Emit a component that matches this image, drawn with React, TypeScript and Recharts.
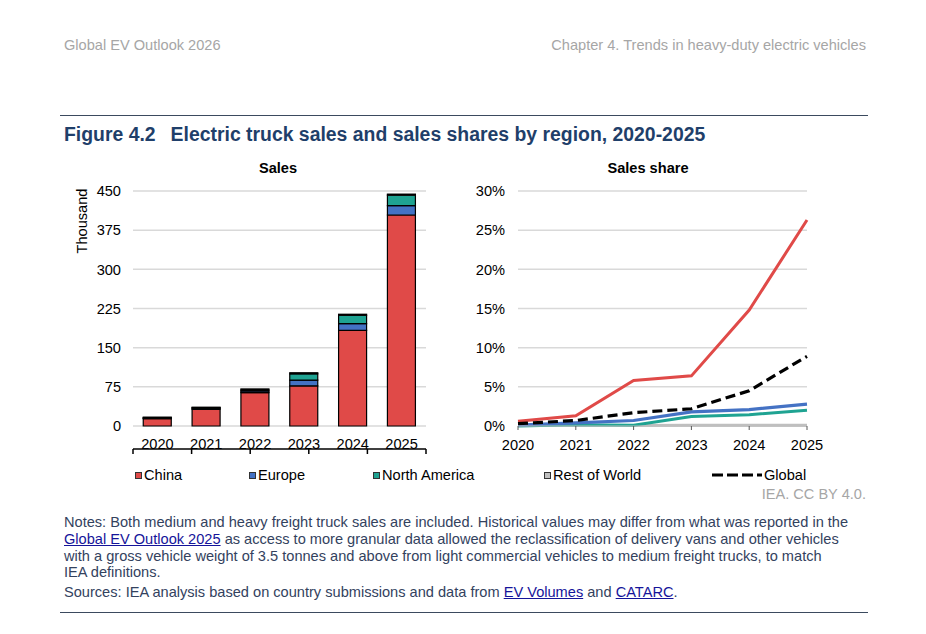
import React from "react";
import {
  BarChart,
  Bar,
  LineChart,
  Line,
  XAxis,
  YAxis,
  CartesianGrid,
} from "recharts";

const years = [2020, 2021, 2022, 2023, 2024, 2025];

// Sales, thousand vehicles
const salesChina = [14, 32, 64, 77, 183, 404];
const salesEurope = [1, 2, 3, 11, 13, 18];
const salesNorthAmerica = [1, 1, 2, 12, 16, 20];
const salesRestOfWorld = [1, 1, 2, 2, 2, 2];

// Sales share, %
const shareChina = [0.6, 1.3, 5.8, 6.4, 14.8, 26.3];
const shareEurope = [0.1, 0.4, 0.7, 1.8, 2.1, 2.8];
const shareNorthAmerica = [0.0, 0.15, 0.1, 1.2, 1.45, 2.0];
const shareRestOfWorld = [0.05, 0.05, 0.05, 0.1, 0.1, 0.1];
const shareGlobal = [0.3, 0.7, 1.7, 2.2, 4.5, 8.9];

const salesTicks = [0, 75, 150, 225, 300, 375, 450];
const shareTicks = [0, 5, 10, 15, 20, 25, 30];

const COLORS = {
  china: "#E04A48",
  europe: "#4472C4",
  northAmerica: "#1FA392",
  rest: "#BFBFBF",
  global: "#000000",
};

const salesData = years.map((y, i) => ({
  year: String(y),
  china: salesChina[i],
  europe: salesEurope[i],
  northAmerica: salesNorthAmerica[i],
  rest: salesRestOfWorld[i],
}));

const shareData = years.map((y, i) => ({
  year: y,
  china: shareChina[i],
  europe: shareEurope[i],
  northAmerica: shareNorthAmerica[i],
  rest: shareRestOfWorld[i],
  global: shareGlobal[i],
}));

const boundaryTicks = years.map((_, i) => i).concat(years.length);

const FONT = "'Liberation Sans', Arial, Helvetica, sans-serif";
const FS = 14.6;
const TITLE_BLUE = "#1F3F6A";
const NOTE_COLOR = "#33425E";
const LINK_COLOR = "#15149A";

const tickStyle = { fontSize: FS, fill: "#000", fontFamily: FONT };

const EmptyTick = () => <g />;

const legendItems = [
  { name: "China", color: COLORS.china, left: 135 },
  { name: "Europe", color: COLORS.europe, left: 249 },
  { name: "North America", color: COLORS.northAmerica, left: 373 },
  { name: "Rest of World", color: COLORS.rest, left: 544 },
];

const linkStyle: React.CSSProperties = {
  color: LINK_COLOR,
  textDecoration: "underline",
};

export default function App() {
  return (
    <div
      style={{
        position: "absolute",
        left: 0,
        top: 0,
        width: 926,
        height: 634,
        background: "#fff",
        fontFamily: FONT,
        overflow: "hidden",
      }}
    >
      {/* Header */}
      <div
        style={{
          position: "absolute",
          left: 64,
          top: 36,
          fontSize: FS,
          lineHeight: "18px",
          color: "#A6A6A6",
          whiteSpace: "nowrap",
        }}
      >
        Global EV Outlook 2026
      </div>
      <div
        style={{
          position: "absolute",
          right: 926 - 866,
          top: 36,
          fontSize: FS,
          lineHeight: "18px",
          color: "#A6A6A6",
          whiteSpace: "nowrap",
        }}
      >
        Chapter 4. Trends in heavy-duty electric vehicles
      </div>

      {/* Top rule */}
      <div
        style={{
          position: "absolute",
          left: 60,
          top: 115,
          width: 808,
          height: 1,
          background: "#3B4A5E",
        }}
      />

      {/* Title */}
      <div
        style={{
          position: "absolute",
          left: 64,
          top: 123,
          fontSize: 19.4,
          lineHeight: "23px",
          fontWeight: "bold",
          color: TITLE_BLUE,
          whiteSpace: "nowrap",
        }}
      >
        <span style={{ marginRight: 15 }}>Figure 4.2</span>
        Electric truck sales and sales shares by region, 2020-2025
      </div>

      {/* Subtitles */}
      <div
        style={{
          position: "absolute",
          left: 178,
          width: 200,
          top: 159,
          textAlign: "center",
          fontSize: FS,
          lineHeight: "18px",
          fontWeight: "bold",
          color: "#000",
        }}
      >
        Sales
      </div>
      <div
        style={{
          position: "absolute",
          left: 548,
          width: 200,
          top: 159,
          textAlign: "center",
          fontSize: FS,
          lineHeight: "18px",
          fontWeight: "bold",
          color: "#000",
        }}
      >
        Sales share
      </div>

      {/* Y-axis title */}
      <div
        style={{
          position: "absolute",
          left: 82,
          top: 221,
          transform: "translate(-50%, -50%) rotate(-90deg)",
          fontSize: FS,
          lineHeight: "16px",
          color: "#000",
          whiteSpace: "nowrap",
        }}
      >
        Thousand
      </div>

      {/* Left chart: Sales */}
      <div style={{ position: "absolute", left: 60, top: 150 }}>
        <BarChart
          width={380}
          height={320}
          data={salesData}
          margin={{ top: 41, right: 14, bottom: 20, left: 33 }}
          barCategoryGap="21%"
        >
          <CartesianGrid
            vertical={false}
            stroke="#D9D9D9"
            strokeWidth={1.5}
            xAxisId="cat"
          />
          <XAxis
            xAxisId="edges"
            type="number"
            domain={[0, years.length]}
            ticks={boundaryTicks}
            allowDataOverflow
            height={1}
            axisLine={{ stroke: "#000", strokeWidth: 1.5 }}
            tickLine={{ stroke: "#000", strokeWidth: 1.5 }}
            tickSize={5}
            tick={<EmptyTick />}
            interval={0}
          />
          <XAxis
            xAxisId="cat"
            dataKey="year"
            height={23}
            axisLine={false}
            tickLine={false}
            tickSize={0}
            tickMargin={13}
            tick={tickStyle}
            interval={0}
          />
          <YAxis
            width={40}
            domain={[0, 450]}
            ticks={salesTicks}
            axisLine={false}
            tickLine={false}
            tickMargin={6}
            tick={tickStyle}
            interval={0}
          />
          <Bar
            xAxisId="cat"
            dataKey="china"
            name="China"
            stackId="s"
            fill={COLORS.china}
            stroke="#000"
            strokeWidth={1.2}
            isAnimationActive={false}
          />
          <Bar
            xAxisId="cat"
            dataKey="europe"
            name="Europe"
            stackId="s"
            fill={COLORS.europe}
            stroke="#000"
            strokeWidth={1.2}
            isAnimationActive={false}
          />
          <Bar
            xAxisId="cat"
            dataKey="northAmerica"
            name="North America"
            stackId="s"
            fill={COLORS.northAmerica}
            stroke="#000"
            strokeWidth={1.2}
            isAnimationActive={false}
          />
          <Bar
            xAxisId="cat"
            dataKey="rest"
            name="Rest of World"
            stackId="s"
            fill={COLORS.rest}
            stroke="#000"
            strokeWidth={1.2}
            isAnimationActive={false}
          />
        </BarChart>
      </div>

      {/* Right chart: Sales share */}
      <div style={{ position: "absolute", left: 460, top: 150 }}>
        <LineChart
          width={380}
          height={320}
          data={shareData}
          margin={{ top: 41, right: 33, bottom: 20, left: 13 }}
        >
          <CartesianGrid vertical={false} stroke="#D9D9D9" strokeWidth={1.5} />
          <XAxis
            dataKey="year"
            type="number"
            domain={[years[0], years[years.length - 1]]}
            ticks={years}
            height={24}
            axisLine={{ stroke: "#BFBFBF", strokeWidth: 1 }}
            tickLine={{ stroke: "#595959", strokeWidth: 1 }}
            tickSize={4}
            tickMargin={10}
            tick={tickStyle}
            interval={0}
          />
          <YAxis
            width={45}
            domain={[0, 30]}
            ticks={shareTicks}
            tickFormatter={(v: number) => `${v}%`}
            axisLine={false}
            tickLine={false}
            tickMargin={7}
            tick={tickStyle}
            interval={0}
          />
          <Line
            dataKey="rest"
            name="Rest of World"
            stroke={COLORS.rest}
            strokeWidth={3}
            dot={false}
            isAnimationActive={false}
          />
          <Line
            dataKey="northAmerica"
            name="North America"
            stroke={COLORS.northAmerica}
            strokeWidth={3}
            dot={false}
            isAnimationActive={false}
          />
          <Line
            dataKey="europe"
            name="Europe"
            stroke={COLORS.europe}
            strokeWidth={3.2}
            dot={false}
            isAnimationActive={false}
          />
          <Line
            dataKey="china"
            name="China"
            stroke={COLORS.china}
            strokeWidth={3}
            dot={false}
            isAnimationActive={false}
          />
          <Line
            dataKey="global"
            name="Global"
            stroke={COLORS.global}
            strokeWidth={3.2}
            strokeDasharray="10 5"
            dot={false}
            isAnimationActive={false}
          />
        </LineChart>
      </div>

      {/* Legend */}
      {legendItems.map((it) => (
        <div
          key={it.name}
          style={{
            position: "absolute",
            left: it.left,
            top: 467,
            height: 16,
            display: "flex",
            alignItems: "center",
            fontSize: FS,
            color: "#000",
            whiteSpace: "nowrap",
          }}
        >
          <span
            style={{
              display: "inline-block",
              width: 5,
              height: 5,
              border: "1px solid #333",
              background: it.color,
              marginRight: 2,
            }}
          />
          {it.name}
        </div>
      ))}
      <div
        style={{
          position: "absolute",
          left: 712,
          top: 467,
          height: 16,
          display: "flex",
          alignItems: "center",
          fontSize: FS,
          color: "#000",
          whiteSpace: "nowrap",
        }}
      >
        <svg width={50} height={6} style={{ marginRight: 2 }}>
          <line
            x1={0}
            y1={3}
            x2={50}
            y2={3}
            stroke="#000"
            strokeWidth={3}
            strokeDasharray="11 4"
          />
        </svg>
        Global
      </div>

      {/* Credit */}
      <div
        style={{
          position: "absolute",
          right: 926 - 866,
          top: 485,
          fontSize: FS,
          lineHeight: "18px",
          color: "#A6A6A6",
          whiteSpace: "nowrap",
        }}
      >
        IEA. CC BY 4.0.
      </div>

      {/* Notes */}
      <div
        style={{
          position: "absolute",
          left: 64,
          top: 514,
          fontSize: FS,
          lineHeight: "16.8px",
          color: NOTE_COLOR,
          whiteSpace: "nowrap",
        }}
      >
        <div>
          Notes: Both medium and heavy freight truck sales are included. Historical values may differ from what was reported in the
          <br />
          <span style={linkStyle}>Global EV Outlook 2025</span> as access to more granular data allowed the reclassification of delivery vans and other vehicles
          <br />
          with a gross vehicle weight of 3.5 tonnes and above from light commercial vehicles to medium freight trucks, to match
          <br />
          IEA definitions.
        </div>
        <div style={{ marginTop: 2.8 }}>
          Sources: IEA analysis based on country submissions and data from{" "}
          <span style={linkStyle}>EV Volumes</span> and{" "}
          <span style={linkStyle}>CATARC</span>.
        </div>
      </div>

      {/* Bottom rule */}
      <div
        style={{
          position: "absolute",
          left: 60,
          top: 612,
          width: 808,
          height: 1,
          background: "#3B4A5E",
        }}
      />
    </div>
  );
}
